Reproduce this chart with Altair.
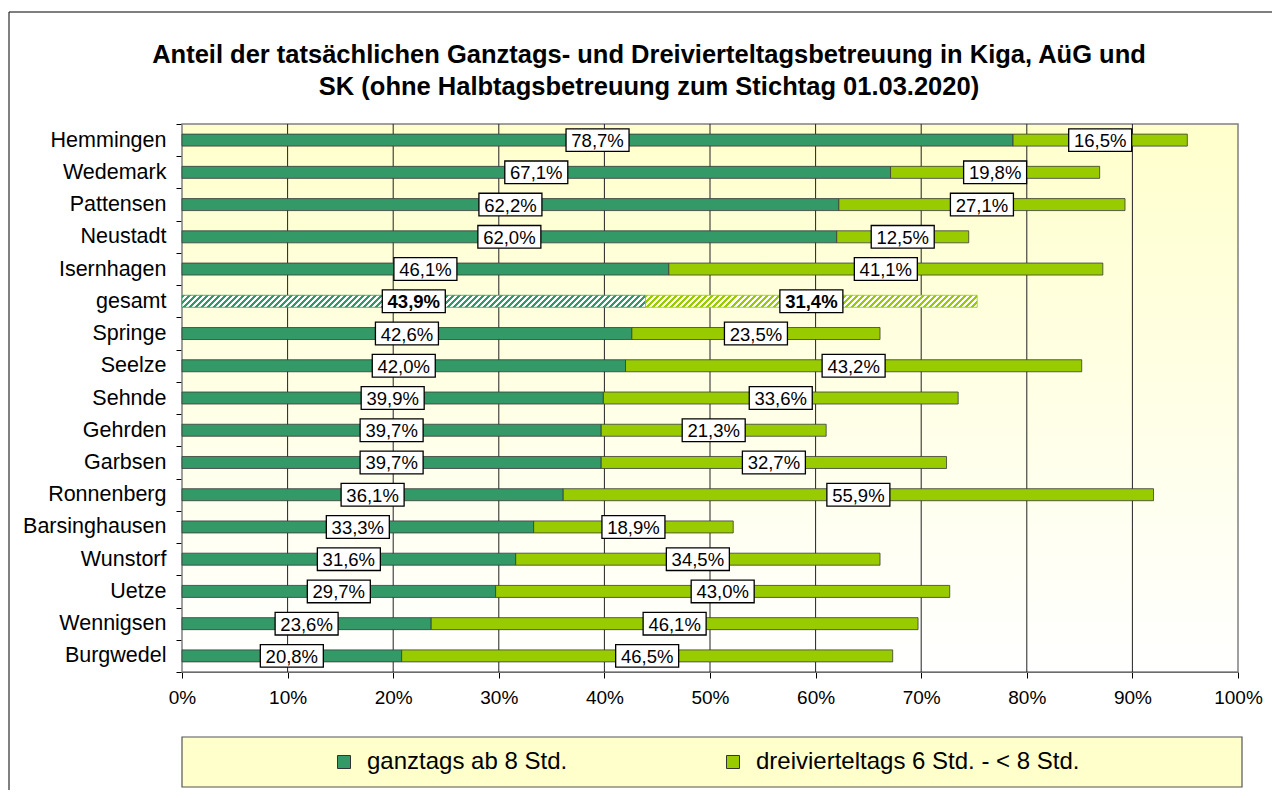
import altair as alt
import pandas as pd

FONT = "Liberation Sans"

regions = ["Hemmingen", "Wedemark", "Pattensen", "Neustadt", "Isernhagen", "gesamt",
           "Springe", "Seelze", "Sehnde", "Gehrden", "Garbsen", "Ronnenberg",
           "Barsinghausen", "Wunstorf", "Uetze", "Wennigsen", "Burgwedel"]
ganztags = [78.7, 67.1, 62.2, 62.0, 46.1, 43.9, 42.6, 42.0, 39.9, 39.7, 39.7, 36.1,
            33.3, 31.6, 29.7, 23.6, 20.8]
dreiviertel = [16.5, 19.8, 27.1, 12.5, 41.1, 31.4, 23.5, 43.2, 33.6, 21.3, 32.7, 55.9,
               18.9, 34.5, 43.0, 46.1, 46.5]
categories = ["ganztags ab 8 Std.", "dreivierteltags 6 Std. - < 8 Std."]
colors = ["#339966", "#99CC00"]
title_lines = ["Anteil der tatsächlichen Ganztags- und Dreivierteltagsbetreuung in Kiga, AüG und",
               "SK (ohne Halbtagsbetreuung zum Stichtag 01.03.2020)"]
x_ticks = [0, 10, 20, 30, 40, 50, 60, 70, 80, 90, 100]
total_label = "gesamt"

PLOT_W = 1056
PLOT_H = 548
BAR_H = 12

rows = []
for r, g, d in zip(regions, ganztags, dreiviertel):
    rows.append({"region": r, "cat": categories[0], "value": g, "ord": 0})
    rows.append({"region": r, "cat": categories[1], "value": d, "ord": 1})
df = pd.DataFrame(rows)


def hatch(color, value, period=6.0):
    W = value / 100.0 * PLOT_W
    k = BAR_H / W
    s = 1.0 + BAR_H / W
    P = period / (W * s)
    stops = []
    t = 0.0
    while t < 1.0:
        a = min(t, 1.0)
        b = min(t + P / 2, 1.0)
        c = min(t + P, 1.0)
        stops += [alt.GradientStop(color=color, offset=a), alt.GradientStop(color=color, offset=b),
                  alt.GradientStop(color="#FFFFFF", offset=b), alt.GradientStop(color="#FFFFFF", offset=c)]
        t += P
    return alt.LinearGradient(gradient="linear", stops=stops, x1=0, y1=0, x2=s, y2=s * k)


xscale = alt.Scale(domain=[0, 100], nice=False)
x_axis = alt.Axis(values=x_ticks, labelExpr="datum.value + '%'", labelFontSize=19,
                  labelFont=FONT, labelColor="black", grid=False, title=None, labelFlush=False,
                  tickSize=6, tickColor="black", domainColor="#333333", labelPadding=10)
y_enc = alt.Y("region:N", sort=regions, title=None,
              scale=alt.Scale(paddingInner=0, paddingOuter=0),
              axis=alt.Axis(tickBand="extent", labelFontSize=21.5, labelColor="black",
                            labelFont=FONT, tickSize=6, tickColor="black", domainColor="black",
                            labelPadding=10, grid=False))
x_enc = alt.X("x0:Q", title=None, scale=xscale, axis=x_axis)

one = pd.DataFrame({"k": [0]})

# plot-area background (gradient, yellow at top to white at bottom)
bg = alt.Chart(one).mark_rect(
    fill=alt.LinearGradient(gradient="linear",
                            stops=[alt.GradientStop(color="#FFFFCC", offset=0),
                                   alt.GradientStop(color="#FFFFE6", offset=0.5),
                                   alt.GradientStop(color="#FFFFFF", offset=1)],
                            x1=0, y1=0, x2=0, y2=1),
    stroke="#808080", strokeWidth=1.5
).encode(x=alt.value(0), x2=alt.value(PLOT_W), y=alt.value(0), y2=alt.value(PLOT_H))

grid = alt.Chart(pd.DataFrame({"t": x_ticks[1:-1]})).mark_rule(color="#222222", strokeWidth=1).encode(
    x=alt.X("t:Q", scale=xscale, axis=x_axis, title=None), y=alt.value(0), y2=alt.value(PLOT_H))

# legend frame (light yellow box spanning below the plot)
legend_box = alt.Chart(one).mark_rect(
    fill="#FFFFCC", stroke="#555555", strokeWidth=1.2, clip=False
).encode(x=alt.value(0), x2=alt.value(1060), y=alt.value(613), y2=alt.value(663))

base = alt.Chart(df).transform_stack(
    stack="value", groupby=["region"], sort=[alt.SortField("ord")], as_=["x0", "x1"]
)

bars = base.transform_filter(alt.datum.region != total_label).mark_bar(
    size=BAR_H, stroke="#3a3a3a", strokeWidth=0.8
).encode(
    y=y_enc, x=x_enc, x2="x1:Q",
    color=alt.Color("cat:N", scale=alt.Scale(domain=categories, range=colors),
                    legend=alt.Legend(orient="none", legendX=0, legendY=613, direction="horizontal",
                                      title=None,
                                      labelFontSize=24, labelFont=FONT, labelColor="black",
                                      labelLimit=600,
                                      symbolType="square", symbolSize=169,
                                      symbolStrokeColor="#333333", symbolStrokeWidth=1,
                                      symbolOffset=137, labelOffset=11, columnPadding=16,
                                      padding=13))
)

total_g = ganztags[regions.index(total_label)]
total_d = dreiviertel[regions.index(total_label)]

hatch0 = base.transform_filter(
    (alt.datum.region == total_label) & (alt.datum.ord == 0)
).mark_bar(size=BAR_H, fill=hatch(colors[0], total_g), stroke=colors[0], strokeWidth=0.8).encode(
    y=y_enc, x=x_enc, x2="x1:Q")
hatch1 = base.transform_filter(
    (alt.datum.region == total_label) & (alt.datum.ord == 1)
).mark_bar(size=BAR_H, fill=hatch(colors[1], total_d), stroke=colors[1], strokeWidth=0.8).encode(
    y=y_enc, x=x_enc, x2="x1:Q")

lab = base.transform_calculate(
    mid="(datum.x0 + datum.x1) / 2",
    lbl="replace(format(datum.value, '.1f'), '.', ',') + '%'"
)
x_mid = alt.X("mid:Q", scale=xscale, axis=x_axis, title=None)

BOX = "M-1,-0.36L1,-0.36L1,0.36L-1,0.36Z"
boxes = lab.mark_point(shape=BOX, size=63 * 63, filled=True, fill="white", stroke="black",
                       strokeWidth=1.3, opacity=1).encode(y=y_enc, x=x_mid)

texts = lab.transform_filter(alt.datum.region != total_label).mark_text(
    font=FONT, fontSize=18.5, color="black", align="center", baseline="middle", dy=1
).encode(y=y_enc, x=x_mid, text="lbl:N")

texts_b = lab.transform_filter(alt.datum.region == total_label).mark_text(
    font=FONT, fontSize=18.5, fontWeight="bold", color="black", align="center", baseline="middle", dy=1
).encode(y=y_enc, x=x_mid, text="lbl:N")

# chart title as two centred text lines above the plot area
title_df = pd.DataFrame({"line": title_lines, "n": [0, 1]})
title1 = alt.Chart(title_df).transform_filter(alt.datum.n == 0).mark_text(
    font=FONT, fontSize=25.5, fontWeight="bold", color="black", align="center", baseline="middle"
).encode(text="line:N", x=alt.value(467), y=alt.value(-69))
title2 = alt.Chart(title_df).transform_filter(alt.datum.n == 1).mark_text(
    font=FONT, fontSize=25.5, fontWeight="bold", color="black", align="center", baseline="middle"
).encode(text="line:N", x=alt.value(467), y=alt.value(-37))

# outer chart frame (top and left edges are visible)
frame_top = alt.Chart(one).mark_rule(color="black", strokeWidth=1).encode(
    x=alt.value(-173), x2=alt.value(PLOT_W + 120), y=alt.value(-112))
frame_left = alt.Chart(one).mark_rule(color="black", strokeWidth=1).encode(
    x=alt.value(-173), y=alt.value(-112), y2=alt.value(PLOT_H + 250))

chart = alt.layer(bg, grid, legend_box, bars, hatch0, hatch1, boxes, texts, texts_b,
                  title1, title2, frame_top, frame_left).properties(
    width=PLOT_W, height=PLOT_H,
    autosize=alt.AutoSizeParams(type="none"),
    padding={"left": 174, "top": 116, "right": 34, "bottom": 118},
    background="white",
).configure_view(stroke=None)

chart.save("out.html", embed_options={"renderer": "svg", "actions": False})
